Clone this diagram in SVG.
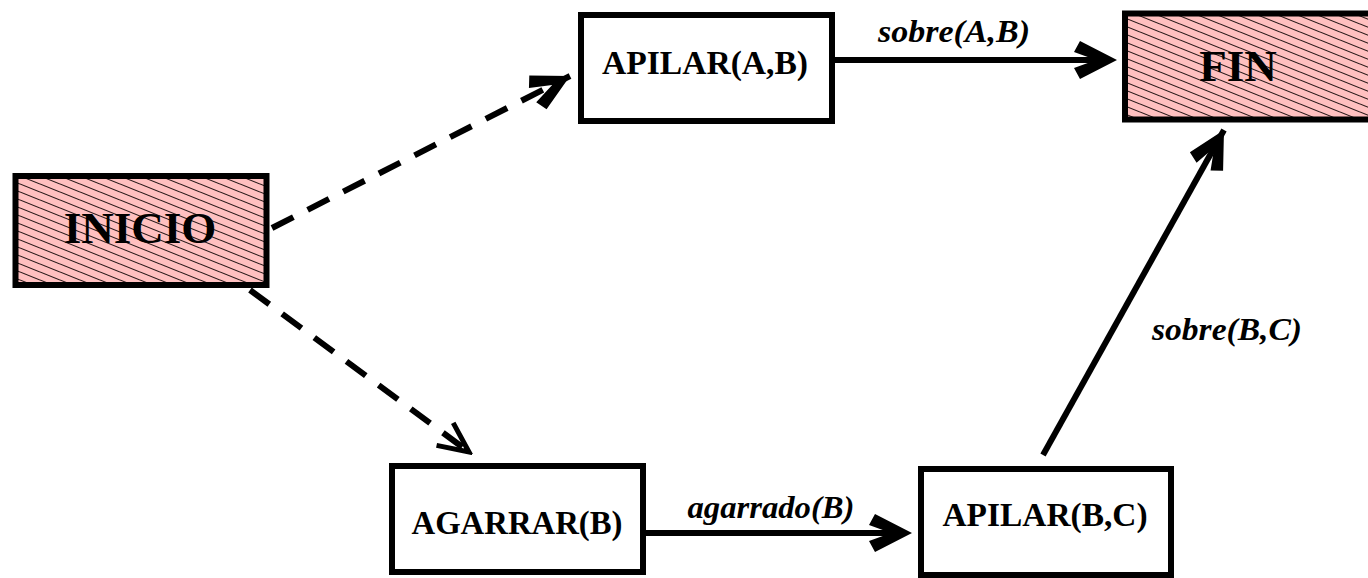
<svg xmlns="http://www.w3.org/2000/svg" width="1368" height="578" viewBox="0 0 1368 578">
  <style>
    .box { fill: #ffffff; stroke: #000000; stroke-width: 6; }
    .term { fill: url(#hatch); stroke: #000000; stroke-width: 6; }
    .name { font-family: "Liberation Serif", "Times New Roman", serif; font-weight: bold; fill: #000000; text-anchor: middle; }
    .cond { font-family: "Liberation Serif", "Times New Roman", serif; font-weight: bold; font-style: italic; font-size: 31px; fill: #000000; text-anchor: middle; }
    .solid { fill: none; stroke: #000000; stroke-width: 6; }
    .dash { fill: none; stroke: #000000; stroke-width: 6; stroke-dasharray: 24 16; }
  </style>
  <defs>
    <!-- pink fill with thin diagonal hatch lines -->
    <pattern id="hatch" patternUnits="userSpaceOnUse" width="20" height="8">
      <rect width="20" height="8" fill="#ffc0c0"/>
      <path d="M-5,-2 L25,10 M-5,-10 L25,2 M-5,6 L25,18" stroke="#2a1a1a" stroke-width="1.1"/>
    </pattern>
    <!-- thick chevron head -->
    <marker id="head" markerUnits="userSpaceOnUse" viewBox="-44 -22 48 44" refX="0" refY="0" markerWidth="48" markerHeight="44" orient="auto">
      <path d="M0,0 L-36,-19 L-42,-8 L-20,0 L-42,8 L-36,19 Z" fill="#000000"/>
    </marker>
    <!-- open V head -->
    <marker id="vee" markerUnits="userSpaceOnUse" viewBox="-40 -20 44 40" refX="0" refY="0" markerWidth="44" markerHeight="40" orient="auto">
      <path d="M-30,-14 L0,0 L-30,14" fill="none" stroke="#000000" stroke-width="5" stroke-linejoin="miter"/>
    </marker>
  </defs>

  <g id="connectors">
    <line class="dash" x1="272" y1="228" x2="570" y2="76" marker-end="url(#head)"/>
    <line class="dash" x1="250" y1="290" x2="469" y2="452" marker-end="url(#vee)"/>
    <line class="solid" x1="835" y1="60" x2="1100" y2="60"/>
    <path d="M1117,60 L1080,41 L1074,52 L1096,60 L1074,68 L1080,79 Z" fill="#000000"/>
    <line class="solid" x1="646" y1="533" x2="895" y2="533"/>
    <path d="M912,533 L875,514 L869,525 L891,533 L869,541 L875,552 Z" fill="#000000"/>
    <line class="solid" x1="1043" y1="455" x2="1224" y2="130" marker-end="url(#head)"/>
    <text class="cond" x="954" y="42" textLength="152" lengthAdjust="spacingAndGlyphs">sobre(A,B)</text>
    <text class="cond" x="771" y="518" textLength="167" lengthAdjust="spacingAndGlyphs">agarrado(B)</text>
    <text class="cond" x="1227" y="340" textLength="150" lengthAdjust="spacingAndGlyphs">sobre(B,C)</text>
  </g>

  <g id="inicio">
    <rect class="term" x="15.5" y="176" width="251" height="109"/>
    <text class="name" x="140" y="243" font-size="45">INICIO</text>
  </g>

  <g id="fin">
    <rect class="term" x="1125" y="13.5" width="260" height="106"/>
    <text class="name" x="1238" y="81" font-size="45">FIN</text>
  </g>

  <g id="apilar-ab">
    <rect class="box" x="581" y="15" width="251" height="106"/>
    <text class="name" x="705" y="74" font-size="34" textLength="206" lengthAdjust="spacingAndGlyphs">APILAR(A,B)</text>
  </g>

  <g id="agarrar-b">
    <rect class="box" x="392" y="466" width="251" height="106"/>
    <text class="name" x="517" y="534" font-size="34" textLength="211" lengthAdjust="spacingAndGlyphs">AGARRAR(B)</text>
  </g>

  <g id="apilar-bc">
    <rect class="box" x="921" y="469" width="250" height="106"/>
    <text class="name" x="1045" y="526" font-size="34" textLength="205" lengthAdjust="spacingAndGlyphs">APILAR(B,C)</text>
  </g>
</svg>
